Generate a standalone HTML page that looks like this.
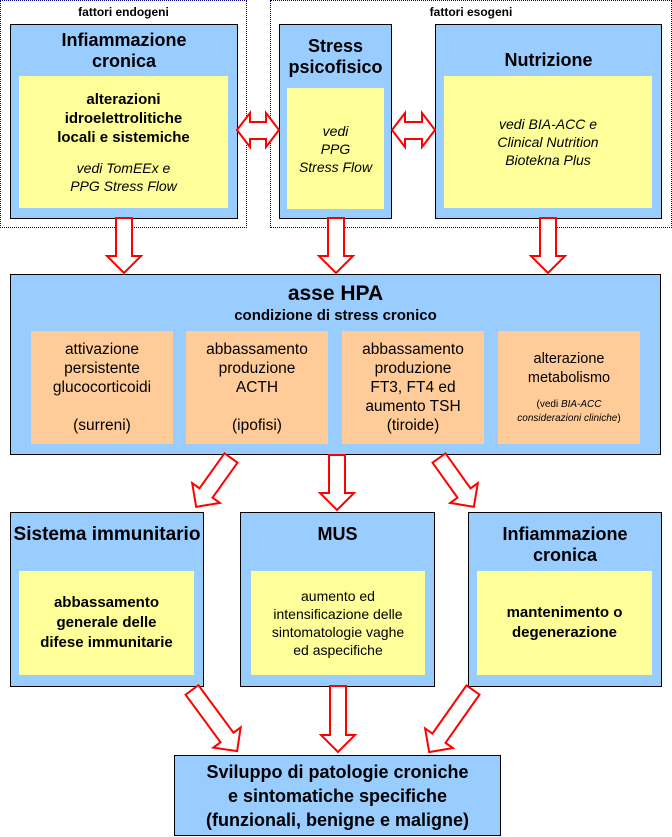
<!DOCTYPE html>
<html><head><meta charset="utf-8"><style>
body{margin:0;width:672px;height:837px;background:#fff;position:relative;overflow:hidden;font-family:"Liberation Sans",Arial,sans-serif;}
.a{position:absolute;box-sizing:border-box;}
.blue{background:#99ccff;border:1px solid #000;}
.yel{background:#ffff99;}
.or{background:#ffcc99;}
.c{display:flex;flex-direction:column;justify-content:center;align-items:center;text-align:center;}
.dot{border:1.5px dotted #000080;}
.t{font-weight:bold;font-size:18px;color:#000;text-align:center;line-height:21px;}
.s{font-size:14px;line-height:18px;}
.i{font-style:italic;}
</style></head><body>
<div class="a dot" style="left:0;top:0;width:247px;height:228px"></div>
<div class="a dot" style="left:270px;top:0;width:402px;height:228px"></div>
<div class="a" style="left:0;top:5px;width:247px;text-align:center;font-weight:bold;font-size:12px">fattori endogeni</div>
<div class="a" style="left:270px;top:5px;width:402px;text-align:center;font-weight:bold;font-size:12px">fattori esogeni</div>

<div class="a blue" style="left:10px;top:24px;width:228px;height:195px"></div>
<div class="a t" style="left:10px;top:30px;width:228px">Infiammazione<br>cronica</div>
<div class="a yel c" style="left:19px;top:76px;width:209px;height:132px">
<div style="font-weight:bold;font-size:15px;line-height:19px">alterazioni<br>idroelettrolitiche<br>locali e sistemiche</div>
<div class="i s" style="margin-top:12px">vedi TomEEx e<br>PPG Stress Flow</div></div>

<div class="a blue" style="left:279px;top:24px;width:113px;height:195px"></div>
<div class="a t" style="left:279px;top:36px;width:113px">Stress<br>psicofisico</div>
<div class="a yel c i s" style="left:287px;top:88px;width:97px;height:121px">vedi<br>PPG<br>Stress Flow</div>

<div class="a blue" style="left:435px;top:24px;width:227px;height:195px"></div>
<div class="a t" style="left:435px;top:50px;width:227px">Nutrizione</div>
<div class="a yel c i s" style="left:444px;top:76px;width:208px;height:132px">vedi BIA-ACC e<br>Clinical Nutrition<br>Biotekna Plus</div>

<div class="a blue" style="left:10px;top:274px;width:651px;height:181px"></div>
<div class="a" style="left:10px;top:282px;width:651px;text-align:center;font-weight:bold;font-size:21px">asse HPA</div>
<div class="a" style="left:10px;top:307px;width:651px;text-align:center;font-weight:bold;font-size:15px">condizione di stress cronico</div>
<div class="a or c" style="left:31px;top:331px;width:142px;height:113px;font-size:15.5px;line-height:19px">attivazione<br>persistente<br>glucocorticoidi<br><br>(surreni)</div>
<div class="a or c" style="left:186px;top:331px;width:142px;height:113px;font-size:15.5px;line-height:19px">abbassamento<br>produzione<br>ACTH<br><br>(ipofisi)</div>
<div class="a or c" style="left:342px;top:331px;width:142px;height:113px;font-size:15.5px;line-height:19px">abbassamento<br>produzione<br>FT3, FT4 ed<br>aumento TSH<br>(tiroide)</div>
<div class="a or c" style="left:498px;top:331px;width:142px;height:113px;font-size:14.5px;line-height:19px">alterazione<br>metabolismo<div style="font-size:10px;line-height:14px;margin-top:10px">(vedi <i>BIA-ACC<br>considerazioni cliniche</i>)</div></div>

<div class="a blue" style="left:10px;top:512px;width:194px;height:175px"></div>
<div class="a t" style="left:10px;top:524px;width:194px;font-size:19px">Sistema immunitario</div>
<div class="a yel c" style="left:19px;top:571px;width:175px;height:104px;font-weight:bold;font-size:15px;line-height:20px">abbassamento<br>generale delle<br>difese immunitarie</div>

<div class="a blue" style="left:240px;top:512px;width:195px;height:175px"></div>
<div class="a t" style="left:240px;top:524px;width:195px">MUS</div>
<div class="a yel c" style="left:251px;top:571px;width:174px;height:104px;font-size:14px;line-height:18px">aumento ed<br>intensificazione delle<br>sintomatologie vaghe<br>ed aspecifiche</div>

<div class="a blue" style="left:468px;top:512px;width:194px;height:175px"></div>
<div class="a t" style="left:468px;top:524px;width:194px">Infiammazione<br>cronica</div>
<div class="a yel c" style="left:477px;top:571px;width:175px;height:104px;font-weight:bold;font-size:15px;line-height:20px">mantenimento o<br>degenerazione</div>

<div class="a blue c" style="left:174px;top:755px;width:327px;height:81px;font-weight:bold;font-size:18px;line-height:24px">Sviluppo di patologie croniche<br>e sintomatiche specifiche<br>(funzionali, benigne e maligne)</div>

<svg class="a" style="left:0;top:0" width="672" height="837">
<defs>
<polygon id="d55" points="-8,0 8,0 8,38 17,38 0,55 -17,38 -8,38" fill="#fff" stroke="#f00" stroke-width="2"/>
<polygon id="d60" points="-8,0 8,0 8,43 17,43 0,60 -17,43 -8,43" fill="#fff" stroke="#f00" stroke-width="2"/>
<polygon id="d66" points="-8,0 8,0 8,49 17,49 0,66 -17,49 -8,49" fill="#fff" stroke="#f00" stroke-width="2"/>
<polygon id="d76" points="-8,0 8,0 8,59 17,59 0,76 -17,59 -8,59" fill="#fff" stroke="#f00" stroke-width="2"/>
</defs>
<polygon points="237,130 250,113 250,122 266,122 266,113 279,130 266,147 266,139 250,139 250,147" fill="#fff" stroke="#f00" stroke-width="2"/>
<polygon points="392,130 405,113 405,122 422,122 422,113 435,130 422,147 422,139 405,139 405,147" fill="#fff" stroke="#f00" stroke-width="2"/>
<use href="#d55" transform="translate(124,218)"/>
<use href="#d55" transform="translate(336,218)"/>
<use href="#d55" transform="translate(548,218)"/>
<use href="#d60" transform="translate(231,458) rotate(35.5)"/>
<use href="#d55" transform="translate(337,455)"/>
<use href="#d60" transform="translate(439,458) rotate(-35.5)"/>
<use href="#d76" transform="translate(192,690) rotate(-36.4)"/>
<use href="#d66" transform="translate(338,686)"/>
<use href="#d76" transform="translate(473,690) rotate(35.2)"/>
</svg>
</body></html>
